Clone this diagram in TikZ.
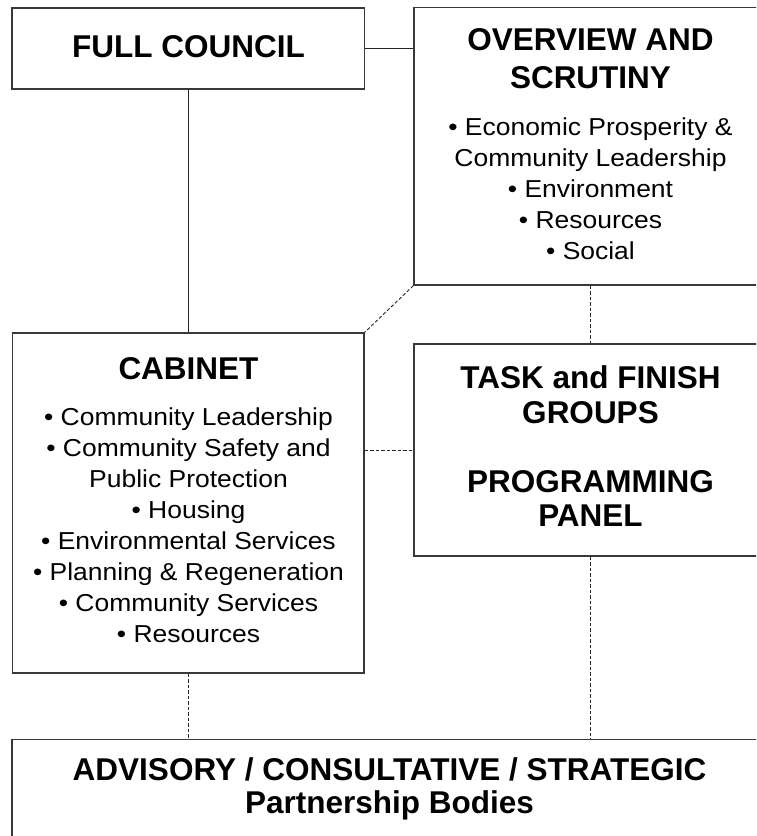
\documentclass[tikz,border=0pt]{standalone}
\usepackage{fontspec}
\setmainfont{Liberation Sans}
\newfontfamily\regfont{Liberation Sans}[FakeStretch=1.08]
\begin{document}
\begin{tikzpicture}[x=1pt,y=-1pt,
  box/.style={draw=black!78, line width=1.3pt, rectangle, inner sep=0pt, fill=none},
  bt/.style={anchor=base, inner sep=0pt, font=\fontsize{31.5}{36}\selectfont\bfseries},
  rt/.style={anchor=base, inner sep=0pt, font=\fontsize{24.5}{30}\selectfont\regfont},
  link/.style={draw=black!85, line width=0.9pt},
  dlink/.style={draw=black!85, line width=0.9pt, dash pattern=on 3.5pt off 2pt}]
\useasboundingbox (0,0) rectangle (756,836);
\clip (0,0) rectangle (756,836);
\fill[white] (0,0) rectangle (756,836);

% boxes
\node[box, minimum width=352.5pt, minimum height=81pt] (fc) at (188.25,48.5) {};
\node[box, minimum width=353pt, minimum height=277.5pt] (ov) at (590.5,146.25) {};
\node[box, minimum width=351.5pt, minimum height=340pt] (cab) at (188.25,503) {};
\node[box, minimum width=353pt, minimum height=212pt] (task) at (590.5,450) {};
\node[box, minimum width=755pt, minimum height=110.5pt] (adv) at (389.5,794.75) {};

% connectors
\draw[link] (fc.east) -- (fc.east -| ov.west);
\draw[link] (fc.south) -- (cab.north);
\draw[dlink] (ov.south west) -- (cab.north east);
\draw[dlink] (ov.south) -- (task.north);
\draw[dlink] (task.west -| cab.east) -- (task.west);
\draw[dlink] (cab.south) -- (cab.south |- adv.north);
\draw[dlink] (task.south) -- (task.south |- adv.north);

% FULL COUNCIL
\node[bt] (fct) at (188.5,57.3) {FULL COUNCIL};

% OVERVIEW AND SCRUTINY
\node[bt] (ovt1) at (590.5,50) {OVERVIEW AND};
\node[bt] (ovt2) at (590.5,88.3) {SCRUTINY};
\node[rt] (ovb1) at (590.5,135) {• Economic Prosperity \&};
\node[rt] (ovb2) at (590.5,166) {Community Leadership};
\node[rt] (ovb3) at (590.5,197) {• Environment};
\node[rt] (ovb4) at (590.5,228) {• Resources};
\node[rt] (ovb5) at (590.5,259) {• Social};

% CABINET
\node[bt] (cabt) at (188.5,379.3) {CABINET};
\node[rt] (cb1) at (188.5,425.7) {• Community Leadership};
\node[rt] (cb2) at (188.5,456.7) {• Community Safety and};
\node[rt] (cb3) at (188.5,487.7) {Public Protection};
\node[rt] (cb4) at (188.5,518.7) {• Housing};
\node[rt] (cb5) at (188.5,549.7) {• Environmental Services};
\node[rt] (cb6) at (188.5,580.7) {• Planning \& Regeneration};
\node[rt] (cb7) at (188.5,611.7) {• Community Services};
\node[rt] (cb8) at (188.5,642.7) {• Resources};

% TASK and FINISH
\node[bt] (tk1) at (590.5,388.3) {TASK and FINISH};
\node[bt] (tk2) at (590.5,423.3) {GROUPS};
\node[bt] (tk3) at (590.5,492) {PROGRAMMING};
\node[bt] (tk4) at (590.5,526.7) {PANEL};

% ADVISORY
\node[bt] (ad1) at (389.5,780) {ADVISORY / CONSULTATIVE / STRATEGIC};
\node[bt] (ad2) at (389.5,813) {Partnership Bodies};
\end{tikzpicture}
\end{document}
